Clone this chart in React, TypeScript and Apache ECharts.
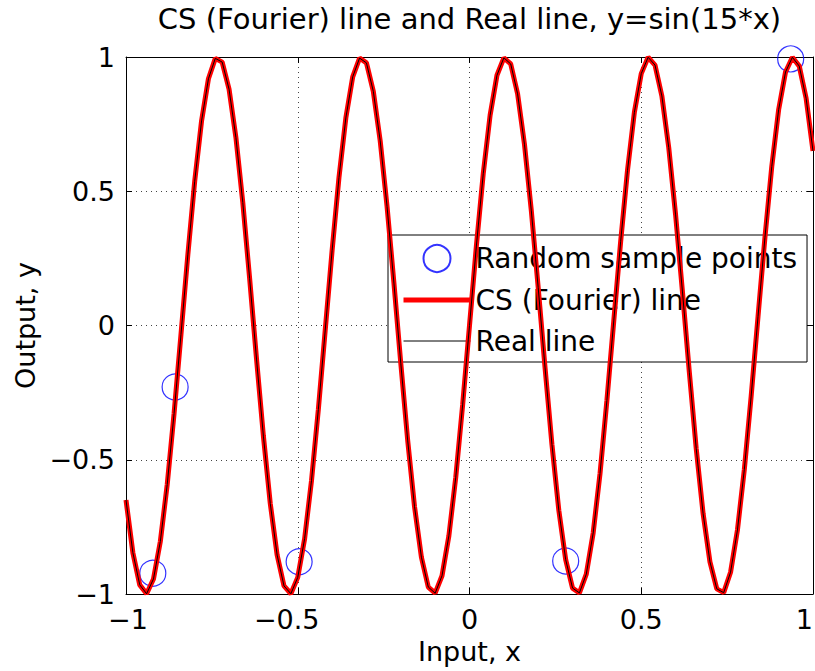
import React, { useEffect, useRef } from "react";
import * as echarts from "echarts";

const TITLE = "CS (Fourier) line and Real line, y=sin(15*x)";
const X_NAME = "Input, x";
const Y_NAME = "Output, y";
const SERIES_NAMES = ["Random sample points", "CS (Fourier) line", "Real line"];

// curve sampled from x = -1 to 1, step 0.02
const X_START = -1;
const X_STEP = 0.02;
const curveValues = [
  -0.650, -0.846, -0.966, -0.999, -0.944, -0.804, -0.592, -0.327, -0.034, 0.263,
  0.537, 0.762, 0.919, 0.995, 0.981, 0.880, 0.700, 0.458, 0.174, -0.125,
  -0.412, -0.663, -0.855, -0.970, -0.999, -0.938, -0.794, -0.578, -0.312, -0.017,
  0.279, 0.551, 0.773, 0.926, 0.996, 0.978, 0.872, 0.688, 0.443, 0.158,
  -0.141, -0.427, -0.675, -0.863, -0.974, -0.997, -0.932, -0.783, -0.565, -0.296,
  0.000,
  0.296, 0.565, 0.783, 0.932, 0.997, 0.974, 0.863, 0.675, 0.427, 0.141,
  -0.158, -0.443, -0.688, -0.872, -0.978, -0.996, -0.926, -0.773, -0.551, -0.279,
  0.017, 0.312, 0.578, 0.794, 0.938, 0.999, 0.970, 0.855, 0.663, 0.412,
  0.125, -0.174, -0.458, -0.700, -0.880, -0.981, -0.995, -0.919, -0.762, -0.537,
  -0.263, 0.034, 0.327, 0.592, 0.804, 0.944, 0.999, 0.966, 0.846, 0.650,
];

const sampleX = [-0.922, -0.857, -0.496, 0.280, 0.935];
const sampleY = [-0.923, -0.229, -0.880, -0.877, 0.993];

const X_TICKS_MIN = -1;
const X_TICKS_MAX = 1;
const TICK_INTERVAL = 0.5;

const FONT = "DejaVu Sans";

export default function App() {
  const ref = useRef<HTMLDivElement>(null);
  useEffect(() => {
    if (!ref.current) return;
    const chart = echarts.init(ref.current, null, { renderer: "svg" });
    const curve = curveValues.map((v, i) => [
      +(X_START + i * X_STEP).toFixed(2),
      v,
    ]);
    const samples = sampleX.map((x, i) => [x, sampleY[i]]);
    const fmt = (v: number) => String(v).replace("-", "\u2212");
    const fmtX = (v: number) => {
      if (v === X_TICKS_MIN) return `{first|${fmt(v)}}`;
      return v < 0 ? `{neg|${fmt(v)}}` : `{pos|${fmt(v)}}`;
    };
    const tickStyle = { show: true, inside: true, length: 6, lineStyle: { color: "#000", width: 1 } };
    const axisLine = { show: true, onZero: false, lineStyle: { color: "#000", width: 1 } };
    const split = { show: true, lineStyle: { color: "#444", width: 1, type: [1, 4] as any } };
    const labelStyle = { fontFamily: FONT, fontSize: 27, color: "#000" };
    chart.setOption({
      animation: false,
      backgroundColor: "#fff",
      graphic: [
        {
          type: "text",
          x: 469.5,
          y: 19,
          style: {
            text: TITLE,
            textAlign: "center",
            textVerticalAlign: "middle",
            font: `29px "${FONT}"`,
            fill: "#000",
          },
        },
      ],
      grid: {
        left: 126,
        width: 687,
        top: 57,
        height: 537,
        containLabel: false,
        outerBoundsMode: "none",
      },
      legend: {
        orient: "vertical",
        left: 388,
        top: 235,
        padding: [9, 10, 7, 13],
        itemWidth: 67,
        itemHeight: 27,
        itemGap: 13,
        backgroundColor: "#fff",
        borderColor: "#000",
        borderWidth: 1,
        borderRadius: 0,
        textStyle: { fontFamily: FONT, fontSize: 28, color: "#000", lineHeight: 27 },
        data: [
          { name: SERIES_NAMES[0] },
          { name: SERIES_NAMES[1], itemStyle: { opacity: 0 }, lineStyle: { width: 5, color: "#ff0000" } },
          { name: SERIES_NAMES[2], itemStyle: { opacity: 0 }, lineStyle: { width: 1, color: "#000" } },
        ],
      },
      xAxis: [
        {
          type: "value",
          min: X_TICKS_MIN,
          max: X_TICKS_MAX,
          interval: TICK_INTERVAL,
          position: "bottom",
          name: X_NAME,
          nameLocation: "middle",
          nameGap: 44,
          nameTextStyle: labelStyle,
          axisLine,
          axisTick: tickStyle,
          axisLabel: {
            ...labelStyle,
            lineHeight: 20,
            margin: 15,
            formatter: fmtX,
            alignMaxLabel: "right",
            rich: {
              first: { ...labelStyle, lineHeight: 20, padding: [0, 0, 0, 4] },
              neg: { ...labelStyle, lineHeight: 20, padding: [0, 22, 0, 0] },
              pos: { ...labelStyle, lineHeight: 20 },
            },
          },
          splitLine: split,
        },
        {
          type: "value",
          min: X_TICKS_MIN,
          max: X_TICKS_MAX,
          interval: TICK_INTERVAL,
          position: "top",
          axisLine,
          axisTick: tickStyle,
          axisLabel: { show: false },
          splitLine: { show: false },
        },
      ],
      yAxis: [
        {
          type: "value",
          min: -1,
          max: 1,
          interval: TICK_INTERVAL,
          position: "left",
          name: Y_NAME,
          nameLocation: "middle",
          nameGap: 82,
          nameTextStyle: labelStyle,
          axisLine,
          axisTick: tickStyle,
          axisLabel: { ...labelStyle, lineHeight: 20, margin: 11, formatter: fmt },
          splitLine: split,
        },
        {
          type: "value",
          min: -1,
          max: 1,
          interval: TICK_INTERVAL,
          position: "right",
          axisLine,
          axisTick: tickStyle,
          axisLabel: { show: false },
          splitLine: { show: false },
        },
      ],
      series: [
        {
          name: SERIES_NAMES[0],
          type: "scatter",
          data: samples,
          symbol: "circle",
          symbolSize: 26,
          clip: false,
          itemStyle: { color: "rgba(0,0,0,0)", borderColor: "#0000ff", borderWidth: 1.2 },
          z: 3,
        },
        {
          name: SERIES_NAMES[1],
          type: "line",
          data: curve,
          symbol: "none",
          clip: false,
          lineStyle: { color: "#ff0000", width: 5 },
          itemStyle: { color: "#ff0000" },
          z: 4,
        },
        {
          name: SERIES_NAMES[2],
          type: "line",
          data: curve,
          symbol: "none",
          clip: false,
          lineStyle: { color: "#000", width: 1 },
          itemStyle: { color: "#000" },
          z: 5,
        },
      ],
    });
    return () => chart.dispose();
  }, []);
  return (
    <div
      ref={ref}
      style={{ position: "fixed", left: 0, top: 0, width: 815, height: 671, background: "#fff" }}
    />
  );
}
